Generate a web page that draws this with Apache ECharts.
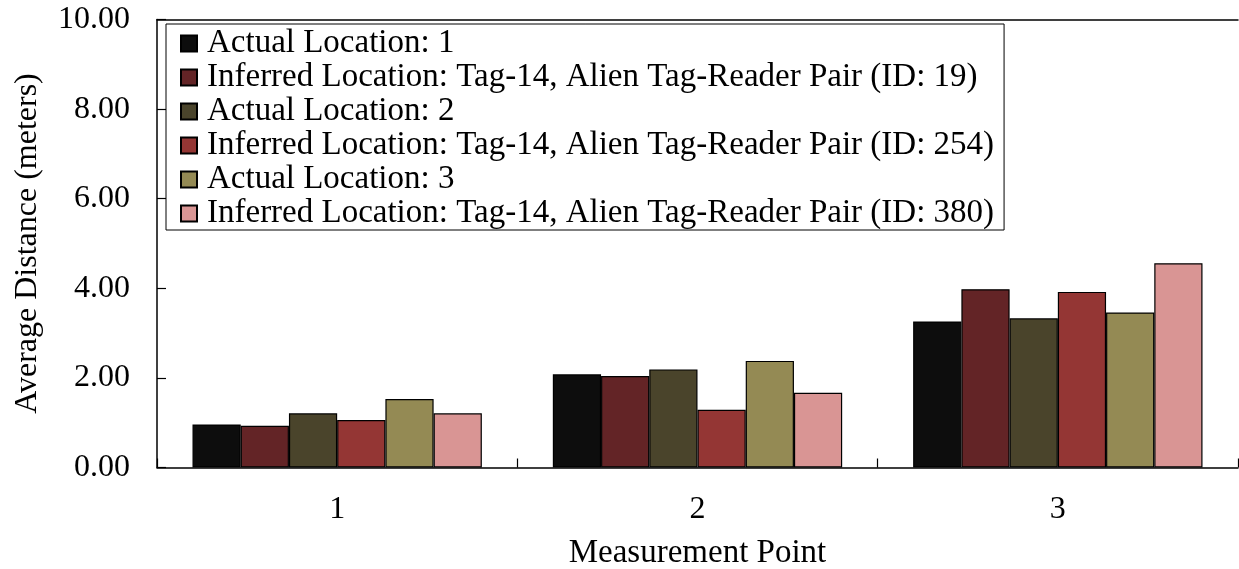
<!DOCTYPE html>
<html>
<head>
<meta charset="utf-8">
<title>Average Distance per Measurement Point</title>
<script src="https://cdn.jsdelivr.net/npm/echarts@6/dist/echarts.min.js"></script>
<style>
  html, body { margin: 0; padding: 0; background: #fff; }
  #chart { width: 1239px; height: 569px; }
</style>
</head>
<body>
<div id="chart"></div>
<script>
// Measurement points on the x axis
const categories = ['1', '2', '3'];

// Series names (legend order)
const seriesNames = [
  'Actual Location: 1',
  'Inferred Location: Tag-14, Alien Tag-Reader Pair (ID: 19)',
  'Actual Location: 2',
  'Inferred Location: Tag-14, Alien Tag-Reader Pair (ID: 254)',
  'Actual Location: 3',
  'Inferred Location: Tag-14, Alien Tag-Reader Pair (ID: 380)'
];

// Average distance in meters, one value per measurement point
const actual1    = [0.96, 2.08, 3.26];
const inferred19 = [0.93, 2.04, 3.98];
const actual2    = [1.21, 2.19, 3.33];
const inferred254 = [1.06, 1.29, 3.92];
const actual3    = [1.53, 2.38, 3.46];
const inferred380 = [1.21, 1.67, 4.56];

const seriesValues = [actual1, inferred19, actual2, inferred254, actual3, inferred380];
const seriesColors = ['#0d0d0d', '#632426', '#4a442b', '#943634', '#948a54', '#d99594'];

// Y axis range
const yMin = 0, yMax = 10, yStep = 2;

const FONT = '"Liberation Serif", "Times New Roman", serif';

const chart = echarts.init(document.getElementById('chart'), null, { renderer: 'canvas' });

const series = seriesNames.map((name, i) => ({
  name: name,
  type: 'bar',
  data: seriesValues[i],
  barGap: '0%',
  barCategoryGap: '19.7%',
  itemStyle: { color: seriesColors[i], borderColor: '#000', borderWidth: 1.2 },
  emphasis: { disabled: true },
  animation: false
}));

chart.setOption({
  backgroundColor: '#fff',
  animation: false,
  textStyle: { fontFamily: FONT },
  grid: {
    left: 157, right: 1, top: 19.5, bottom: 101.5,
    containLabel: false,
    outerBoundsMode: 'none'
  },
  legend: {
    orient: 'vertical',
    left: 166,
    top: 24,
    padding: [3, 10, 0, 14],
    itemGap: 1.0,
    itemWidth: 16,
    itemHeight: 16,
    icon: 'rect',
    backgroundColor: '#fff',
    borderColor: '#000',
    borderWidth: 1,
    selectedMode: false,
    data: seriesNames,
    textStyle: {
      fontFamily: FONT,
      fontSize: 33,
      color: '#000',
      padding: [0, 0, 0, 5]
    }
  },
  xAxis: [
    {
      type: 'category',
      data: categories,
      position: 'bottom',
      name: 'Measurement Point',
      nameLocation: 'middle',
      nameGap: 69,
      nameTextStyle: { fontFamily: FONT, fontSize: 33, color: '#000' },
      axisLine: { show: true, lineStyle: { color: '#000', width: 1.5 } },
      axisTick: { show: true, inside: true, length: 9, lineStyle: { color: '#000', width: 1.2 } },
      axisLabel: { fontFamily: FONT, fontSize: 32, color: '#000', margin: 26 },
      splitLine: { show: false }
    },
    {
      type: 'category',
      data: categories,
      position: 'top',
      axisLine: { show: true, lineStyle: { color: '#000', width: 1.5 } },
      axisTick: { show: false },
      axisLabel: { show: false },
      splitLine: { show: false }
    }
  ],
  yAxis: {
    type: 'value',
    min: yMin,
    max: yMax,
    interval: yStep,
    name: 'Average Distance (meters)',
    nameLocation: 'middle',
    nameGap: 113,
    nameTextStyle: { fontFamily: FONT, fontSize: 32, color: '#000' },
    axisLine: { show: true, lineStyle: { color: '#000', width: 1.5 } },
    axisTick: { show: true, inside: true, length: 9, lineStyle: { color: '#000', width: 1.2 } },
    axisLabel: {
      fontFamily: FONT, fontSize: 32, color: '#000', margin: 27,
      formatter: v => v.toFixed(2)
    },
    splitLine: { show: false }
  },
  series: series
});
</script>
</body>
</html>
